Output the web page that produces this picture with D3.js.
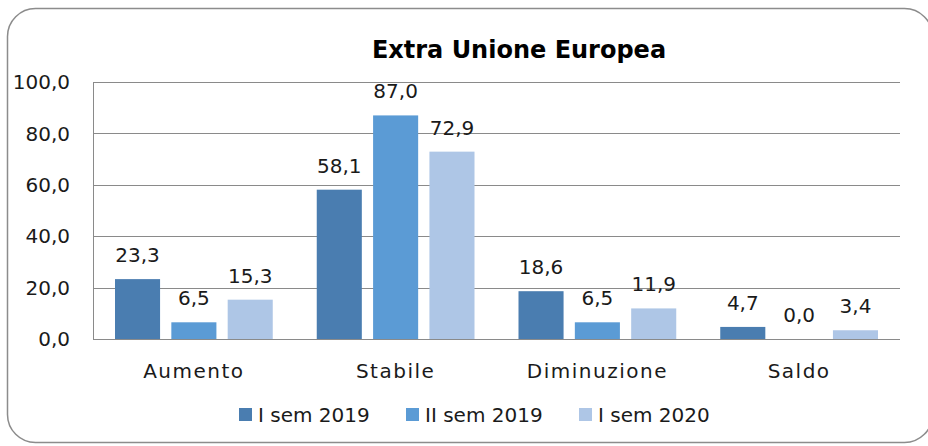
<!DOCTYPE html>
<meta charset="utf-8">
<style>
body { margin: 0; background: #fff; }
svg text { font-family: "DejaVu Sans", sans-serif; fill: #1a1a1a; }
</style>
<body>
<script src="https://cdn.jsdelivr.net/npm/d3@7"></script>
<script>
const categories = ["Aumento", "Stabile", "Diminuzione", "Saldo"];
const seriesNames = ["I sem 2019", "II sem 2019", "I sem 2020"];
const sem1_2019 = [23.3, 58.1, 18.6, 4.7];
const sem2_2019 = [6.5, 87.0, 6.5, 0.0];
const sem1_2020 = [15.3, 72.9, 11.9, 3.4];
const yTicks = [0, 20, 40, 60, 80, 100];
const colors = ["#4a7db0", "#5b9bd5", "#aec6e6"];

const W = 928, H = 446;
const plot = {left: 93, right: 900, top: 82, bottom: 339};

const svg = d3.select("body").append("svg").attr("width", W).attr("height", H);

// outer frame
svg.append("rect")
  .attr("x", 7.5).attr("y", 8.5).attr("width", 925).attr("height", 434)
  .attr("rx", 28).attr("ry", 28)
  .attr("fill", "none").attr("stroke", "#8c8c8c").attr("stroke-width", 1.5);

const x0 = d3.scaleBand().domain(categories).range([plot.left, plot.right]).paddingInner(0).paddingOuter(0);
const x1 = d3.scaleBand().domain(seriesNames).range([22, x0.bandwidth() - 22]).paddingInner(0.2).paddingOuter(0);
const y = d3.scaleLinear().domain([0, 100]).range([plot.bottom, plot.top]);

const fmt = v => v.toFixed(1).replace(".", ",");

// gridlines
svg.append("g").selectAll("line").data(yTicks).join("line")
  .attr("x1", plot.left).attr("x2", plot.right)
  .attr("y1", d => Math.round(y(d)) + 0.5).attr("y2", d => Math.round(y(d)) + 0.5)
  .attr("stroke", "#8a8a8a").attr("stroke-width", 1);

svg.append("line")
  .attr("x1", plot.left + 0.5).attr("x2", plot.left + 0.5)
  .attr("y1", plot.top).attr("y2", plot.bottom)
  .attr("stroke", "#8a8a8a");

// y tick labels
svg.append("g").selectAll("text").data(yTicks).join("text")
  .attr("x", 70).attr("y", d => y(d)).attr("dy", "0.36em")
  .attr("text-anchor", "end").attr("font-size", 20)
  .text(d => fmt(d));

const series = [sem1_2019, sem2_2019, sem1_2020];
const rows = [];
series.forEach((vals, si) => vals.forEach((v, ci) => rows.push({s: seriesNames[si], si, c: categories[ci], v})));

svg.append("g").selectAll("rect").data(rows).join("rect")
  .attr("x", d => x0(d.c) + x1(d.s))
  .attr("width", x1.bandwidth())
  .attr("y", d => y(d.v))
  .attr("height", d => y(0) - y(d.v))
  .attr("fill", d => colors[d.si]);

// value labels
svg.append("g").selectAll("text").data(rows).join("text")
  .attr("x", d => x0(d.c) + x1(d.s) + x1.bandwidth() / 2)
  .attr("y", d => y(d.v) - 17)
  .attr("text-anchor", "middle").attr("font-size", 20)
  .text(d => fmt(d.v));

// category labels
svg.append("g").selectAll("text").data(categories).join("text")
  .attr("x", d => x0(d) + x0.bandwidth() / 2)
  .attr("y", 378)
  .attr("text-anchor", "middle").attr("font-size", 20)
  .style("letter-spacing", "1.5px")
  .text(d => d);

// title
svg.append("text")
  .attr("x", 519).attr("y", 58)
  .attr("text-anchor", "middle").attr("font-size", 24).attr("font-weight", "bold")
  .style("fill", "#000")
  .text("Extra Unione Europea");

// legend
const legendX = [239, 406, 579];
const lg = svg.append("g").selectAll("g").data(seriesNames).join("g")
  .attr("transform", (d, i) => `translate(${legendX[i]},0)`);
lg.append("rect").attr("x", 0).attr("y", 408).attr("width", 13).attr("height", 13)
  .attr("fill", (d, i) => colors[i]);
lg.append("text").attr("x", 19).attr("y", 422).attr("font-size", 20).text(d => d);
</script>
</body>
